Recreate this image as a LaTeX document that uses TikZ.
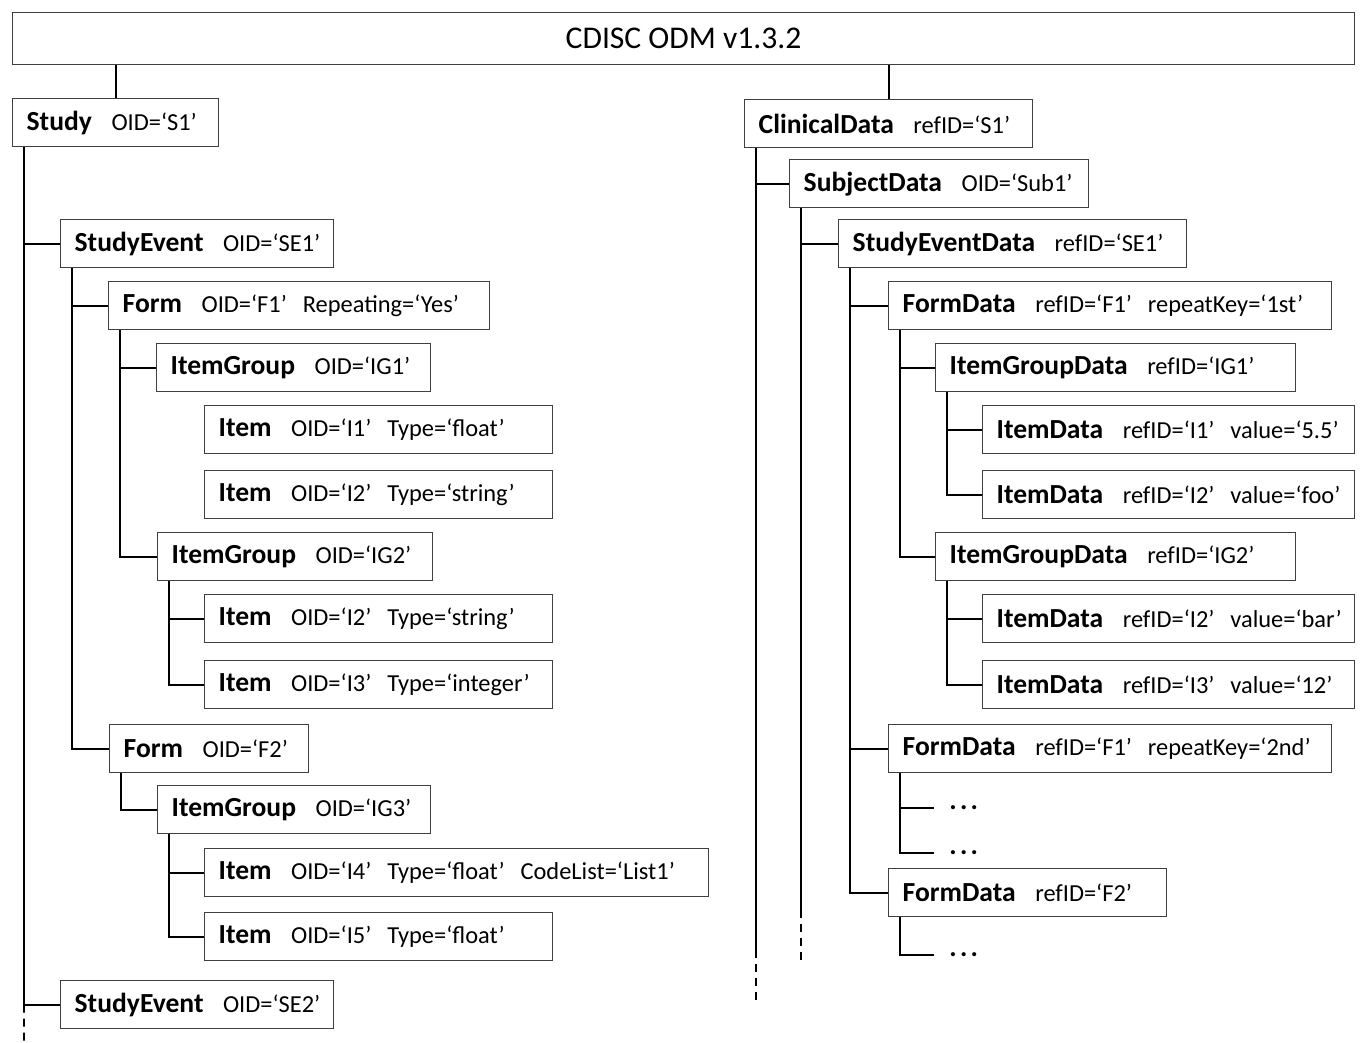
\documentclass[tikz,border=0pt]{standalone}
\usepackage{fontspec}
\setmainfont{Carlito}
\newcommand{\odm}[2]{\mbox{{\fontsize{15.7}{18}\selectfont\bfseries #1}\hspace{0.8em}#2}}
\newcommand{\gap}{\hspace{0.65em}}

\begin{document}
\begin{tikzpicture}[
  x=0.02cm,
  y=-0.02cm,
  elem/.style={draw=black!75,line width=0.8pt,anchor=north west,
    minimum height=0.96cm,inner xsep=0.28cm,inner ysep=0pt,align=left,
    font=\fontsize{13.9}{16}\selectfont},
  titlebox/.style={draw=black!75,line width=0.8pt,anchor=north west,
    minimum width=26.84cm,minimum height=1.04cm,inner sep=0pt,
    font=\fontsize{18}{21}\selectfont},
  link/.style={line width=1pt},
  tail/.style={line width=1pt,dash pattern=on 0.16cm off 0.12cm},
  more/.style={anchor=west,inner xsep=0.3cm,
    font=\fontsize{15.7}{18}\selectfont\bfseries}
]
\useasboundingbox (0,0) rectangle (1362,1042);

% Root
\node[titlebox] (odm) at (12,12) {CDISC ODM v1.3.2};

% Study definition (metadata)
\node[elem,text width=3.56cm] (study) at (12,98) {\odm{Study}{OID=`S1'}};
\node[elem,text width=4.9cm] (se1) at (60,219) {\odm{StudyEvent}{OID=`SE1'}};
\node[elem,text width=7.06cm] (f1) at (108,281)
  {\odm{Form}{OID=`F1'\gap Repeating=`Yes'}};
\node[elem,text width=4.92cm] (ig1) at (156,343) {\odm{ItemGroup}{OID=`IG1'}};
\node[elem,text width=6.4cm] (it1) at (204,405)
  {\odm{Item}{OID=`I1'\gap Type=`float'}};
\node[elem,text width=6.4cm] (it2) at (204,470)
  {\odm{Item}{OID=`I2'\gap Type=`string'}};
\node[elem,text width=4.94cm] (ig2) at (157,532) {\odm{ItemGroup}{OID=`IG2'}};
\node[elem,text width=6.4cm] (it3) at (204,594)
  {\odm{Item}{OID=`I2'\gap Type=`string'}};
\node[elem,text width=6.4cm] (it4) at (204,660)
  {\odm{Item}{OID=`I3'\gap Type=`integer'}};
\node[elem,text width=3.42cm] (f2) at (109,724) {\odm{Form}{OID=`F2'}};
\node[elem,text width=4.9cm] (ig3) at (157,785) {\odm{ItemGroup}{OID=`IG3'}};
\node[elem,text width=9.52cm] (it5) at (204,848)
  {\odm{Item}{OID=`I4'\gap Type=`float'\gap CodeList=`List1'}};
\node[elem,text width=6.4cm] (it6) at (204,912)
  {\odm{Item}{OID=`I5'\gap Type=`float'}};
\node[elem,text width=4.9cm] (se2) at (60,980) {\odm{StudyEvent}{OID=`SE2'}};

% Clinical data (instance)
\node[elem,text width=5.2cm] (cd) at (744,99) {\odm{ClinicalData}{refID=`S1'}};
\node[elem,text width=5.42cm] (sd) at (789,159) {\odm{SubjectData}{OID=`Sub1'}};
\node[elem,text width=6.4cm] (sed) at (838,219)
  {\odm{StudyEventData}{refID=`SE1'}};
\node[elem,text width=8.3cm] (fd1) at (888,281)
  {\odm{FormData}{refID=`F1'\gap repeatKey=`1st'}};
\node[elem,text width=6.64cm] (igd1) at (935,343)
  {\odm{ItemGroupData}{refID=`IG1'}};
\node[elem,text width=6.88cm] (id1) at (982,405)
  {\odm{ItemData}{refID=`I1'\gap value=`5.5'}};
\node[elem,text width=6.88cm] (id2) at (982,470)
  {\odm{ItemData}{refID=`I2'\gap value=`foo'}};
\node[elem,text width=6.64cm] (igd2) at (935,532)
  {\odm{ItemGroupData}{refID=`IG2'}};
\node[elem,text width=6.88cm] (id3) at (982,594)
  {\odm{ItemData}{refID=`I2'\gap value=`bar'}};
\node[elem,text width=6.88cm] (id4) at (982,660)
  {\odm{ItemData}{refID=`I3'\gap value=`12'}};
\node[elem,text width=8.3cm] (fd2) at (888,724)
  {\odm{FormData}{refID=`F1'\gap repeatKey=`2nd'}};
\node[more] (m1) at (934,808) {.\kern0.12em.\kern0.12em.};
\node[more] (m2) at (934,853) {.\kern0.12em.\kern0.12em.};
\node[elem,text width=5.0cm] (fd3) at (888,868) {\odm{FormData}{refID=`F2'}};
\node[more] (m3) at (934,955) {.\kern0.12em.\kern0.12em.};

% Tree connectors
\draw[link] (study.north) -- (study.north |- odm.south);
\draw[link] (cd.north) -- (cd.north |- odm.south);
\foreach \n in {study,se1,f1,ig2,f2,ig3,cd,sd,sed,fd1,igd1,igd2,fd2,fd3}
  \coordinate (\n-s) at ([xshift=0.24cm]\n.south west);
\foreach \p/\c in {study/se1,study/se2,se1/f1,se1/f2,f1/ig1,f1/ig2,
    ig2/it3,ig2/it4,f2/ig3,ig3/it5,ig3/it6,
    cd/sd,sd/sed,sed/fd1,sed/fd2,sed/fd3,fd1/igd1,fd1/igd2,
    igd1/id1,igd1/id2,igd2/id3,igd2/id4,fd2/m1,fd2/m2,fd3/m3}
  \draw[link] (\p-s) |- (\c.west);

% Open ends
\coordinate (studyend) at (24,1042);
\draw[tail] (study-s |- se2.west) -- (studyend);
\coordinate (cdcut) at (756,950);
\coordinate (cdend) at (756,1003);
\draw[link] (cd-s) -- (cdcut);
\draw[tail] (cdcut) -- (cdend);
\coordinate (sdcut) at (801,910);
\coordinate (sdend) at (801,963);
\draw[link] (sd-s) -- (sdcut);
\draw[tail] (sdcut) -- (sdend);

\end{tikzpicture}
\end{document}
